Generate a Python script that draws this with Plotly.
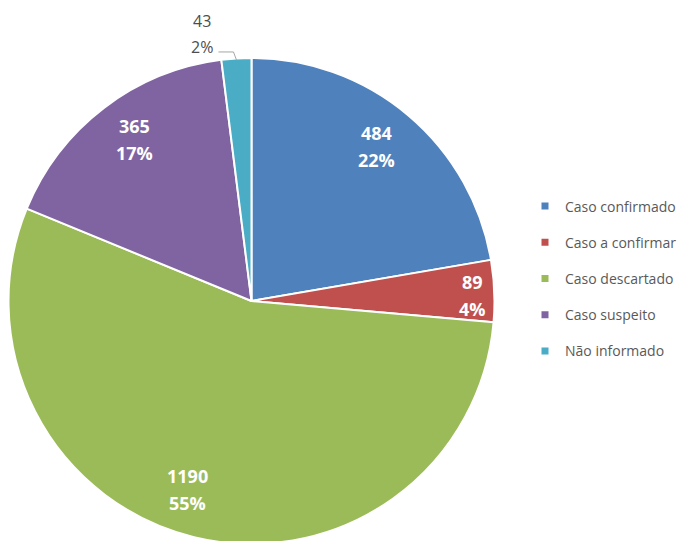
import math
import plotly.graph_objects as go

categories = ["Caso confirmado", "Caso a confirmar", "Caso descartado", "Caso suspeito", "Não informado"]
values = [484, 89, 1190, 365, 43]
colors = ["#4F81BD", "#C0504D", "#9BBB59", "#8064A2", "#4BACC6"]
# label placement: fraction of the radius along each slice's bisector (None = outside label)
label_radius = [0.823, 0.915, 0.823, 0.823, None]
label_angle_shift = [-1, 1, 5, 1.5, 0]  # degrees

W, H = 689, 541
OFF = 8  # page body margin in the browser
cx, cy, r = 251.5 - OFF, 301 - OFF, 241.5  # pie geometry in figure pixels


def px(x):
    return x / W


def py(y):
    return 1 - y / H


fig = go.Figure()
fig.add_trace(go.Pie(
    labels=categories,
    values=values,
    sort=False,
    direction="clockwise",
    rotation=0,
    marker=dict(colors=colors, line=dict(color="white", width=2)),
    textinfo="none",
    showlegend=False,
    hoverinfo="label+value+percent",
    domain=dict(x=[px(cx - r - 1.5), px(cx + r + 1.5)], y=[py(cy + r + 1.5), py(cy - r - 1.5)]),
    automargin=False,
))

for cat, col in zip(categories, colors):
    fig.add_trace(go.Scatter(
        x=[None], y=[None], mode="markers", name=cat, legendgroup=cat,
        marker=dict(symbol="square", size=7, color=col),
        showlegend=True,
    ))

total = sum(values)
annotations = []
shapes = []
cum = 0
for v, f, sh in zip(values, label_radius, label_angle_shift):
    mid = (cum + v / 2) / total * 2 * math.pi
    cum += v
    pct = f"{round(v / total * 100)}%"
    if f is not None:
        a = mid + math.radians(sh)
        lx = cx + f * r * math.sin(a)
        ly = cy - f * r * math.cos(a)
        for txt, dy in ((str(v), -13.5), (pct, 13.5)):
            annotations.append(dict(
                x=px(lx), y=py(ly + dy), xref="paper", yref="paper", text=txt,
                showarrow=False, xanchor="center", yanchor="middle",
                font=dict(family="Open Sans", size=18, color="white", weight="bold"),
            ))
    else:
        ex = cx + r * math.sin(mid)
        ey = cy - r * math.cos(mid)
        kx, ky = ex - 3, ey - 8
        hx, hy = kx - 15, ky
        shapes.append(dict(
            type="path", xref="paper", yref="paper",
            path=f"M {px(ex)} {py(ey)} L {px(kx)} {py(ky)} L {px(hx)} {py(hy)}",
            line=dict(color="#A6A6A6", width=1),
        ))
        lx, ly = hx - 16, hy - 18
        for txt, dy in ((str(v), -13), (pct, 13)):
            annotations.append(dict(
                x=px(lx), y=py(ly + dy), xref="paper", yref="paper", text=txt,
                showarrow=False, xanchor="center", yanchor="middle",
                font=dict(family="Open Sans", size=16, color="#4D4D4D"),
            ))

fig.update_layout(
    width=W, height=H,
    margin=dict(l=0, r=0, t=0, b=0),
    paper_bgcolor="white", plot_bgcolor="white",
    xaxis=dict(visible=False), yaxis=dict(visible=False),
    annotations=annotations,
    shapes=shapes,
    legend=dict(
        x=px(565 - OFF - 40), y=py(278.5 - OFF), xanchor="left", yanchor="middle",
        font=dict(family="Open Sans", size=14, color="#595959"),
        tracegroupgap=15, itemwidth=30,
    ),
)

fig.write_html("out.html")
